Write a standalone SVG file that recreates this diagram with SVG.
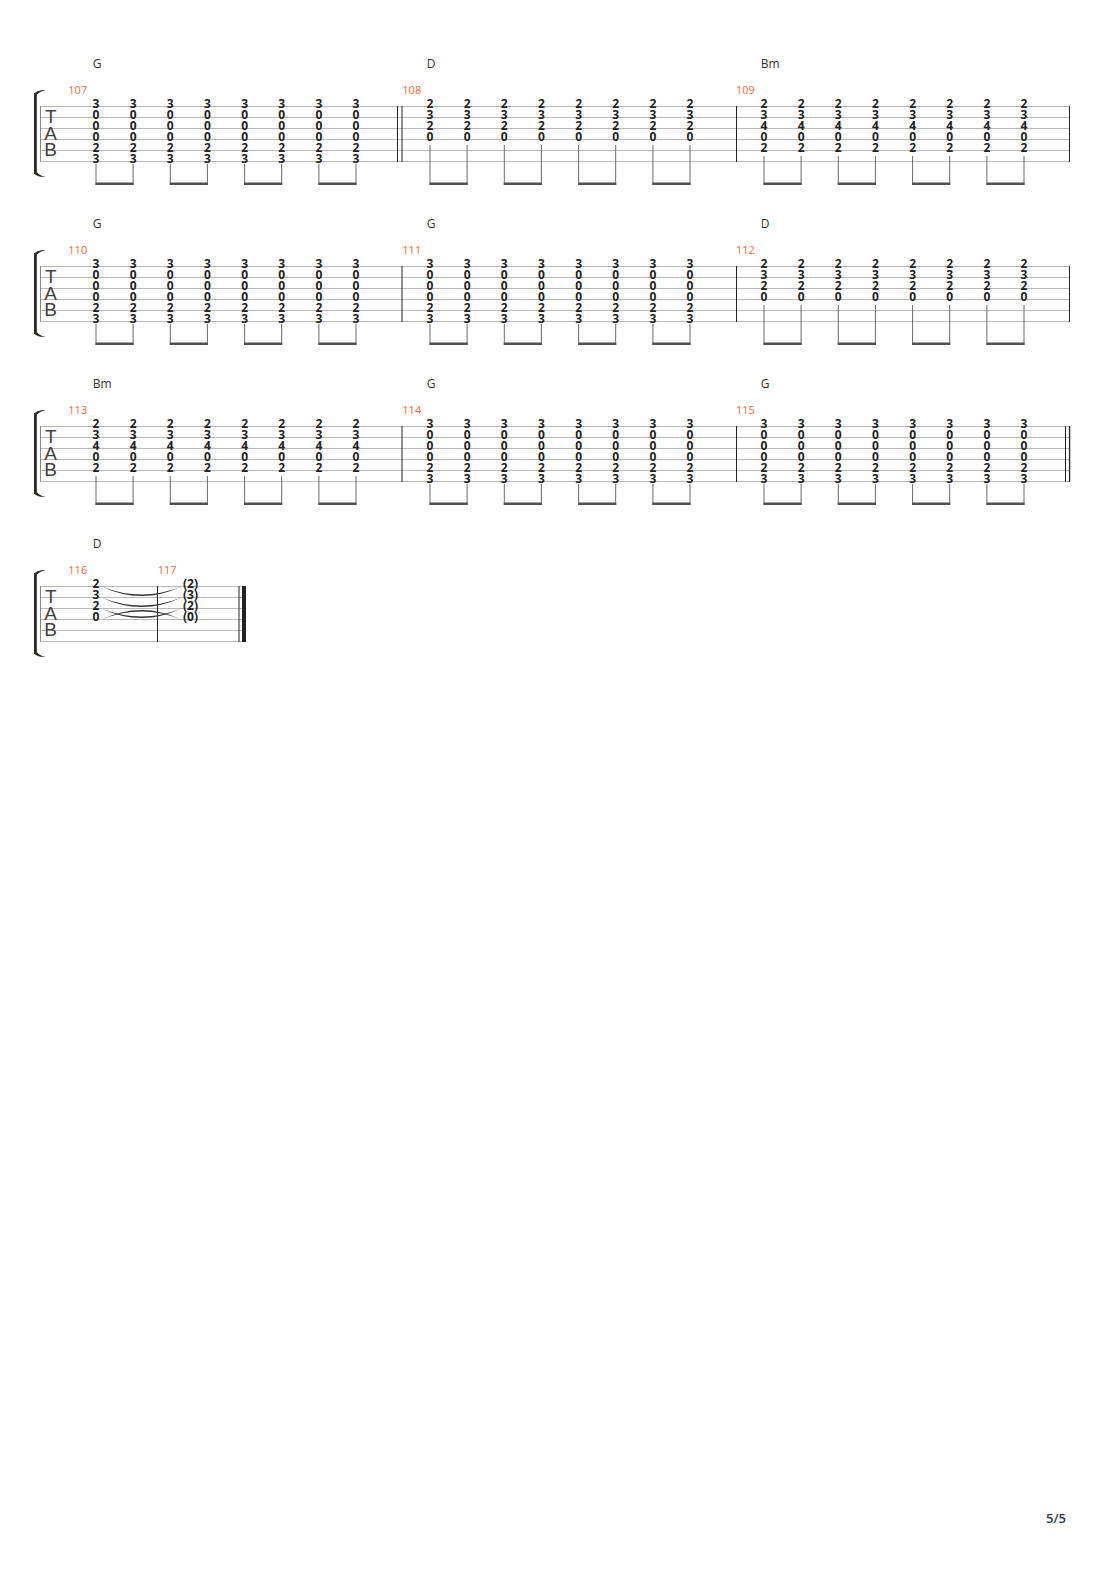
<svg xmlns="http://www.w3.org/2000/svg" width="1110" height="1570" viewBox="0 0 1110 1570">
<style>
.bg{fill:#ffffff}
.staff{stroke:#b8b8b8;stroke-width:1;fill:none}
.bar{stroke:#222;stroke-width:1;fill:none}
.n{font-family:"Open Sans","Liberation Sans",sans-serif;font-weight:700;font-size:12px;fill:#222;text-anchor:middle}
.chord{font-family:"Open Sans","Liberation Sans",sans-serif;font-size:12px;fill:#333}
.num{font-family:"Open Sans","Liberation Sans",sans-serif;font-size:11px;fill:#f26a3c}
.tab{font-family:"Liberation Sans",sans-serif;font-size:19px;fill:#444;text-anchor:middle}
.stem{stroke:#6a6a6a;stroke-width:1;fill:none}
.beam{stroke:#505050;stroke-width:2.5;fill:none}
.brk{fill:#2a2a22}
.tie{fill:#333}
.pg{font-family:"Open Sans","Liberation Sans",sans-serif;font-size:13px;font-weight:600;fill:#2c3a4c;text-anchor:end}
</style>
<defs>
<g id="bracket">
<rect x="34" y="-13" width="2.8" height="81" class="brk"/>
<path d="M34,-12.5 Q38,-16.5 46,-16 Q39,-14.5 36.8,-11 Z" class="brk"/>
<path d="M34,67.5 Q38,71.5 46,71 Q39,69.5 36.8,66 Z" class="brk"/>
<text x="50.7" y="17.3" class="tab">T</text>
<text x="50.7" y="34" class="tab">A</text>
<text x="50.7" y="50" class="tab">B</text>
<path d="M40.5,0 V55" stroke="#888" stroke-width="1"/>
</g>
</defs>
<rect x="0" y="0" width="1110" height="1570" class="bg"/>

<!-- System 1 -->
<g id="system1">
<path class="staff" d="M40,106.5 H1070 M40,117.5 H1070 M40,128.5 H1070 M40,139.5 H1070 M40,150.5 H1070 M40,161.5 H1070"/>
<use href="#bracket" transform="translate(0,106)"/>
<path class="bar" d="M397.5,106 V162 M402,106 V162 M736.5,106 V162 M1069.5,106 V162"/>
<g id="m107">
<text class="chord" x="92.7" y="68.3">G</text>
<text class="num" x="68.3" y="94">107</text>
<text class="n" x="96 133.1 170.3 207.4 244.6 281.7 318.9 356" y="107.5">33333333</text>
<text class="n" x="96 133.1 170.3 207.4 244.6 281.7 318.9 356" y="118.5">00000000</text>
<text class="n" x="96 133.1 170.3 207.4 244.6 281.7 318.9 356" y="129.5">00000000</text>
<text class="n" x="96 133.1 170.3 207.4 244.6 281.7 318.9 356" y="140.5">00000000</text>
<text class="n" x="96 133.1 170.3 207.4 244.6 281.7 318.9 356" y="151.5">22222222</text>
<text class="n" x="96 133.1 170.3 207.4 244.6 281.7 318.9 356" y="162.5">33333333</text>
</g>
<g id="m108">
<text class="chord" x="426.7" y="68.3">D</text>
<text class="num" x="402.3" y="94">108</text>
<text class="n" x="430 467.1 504.3 541.4 578.6 615.7 652.9 690" y="107.5">22222222</text>
<text class="n" x="430 467.1 504.3 541.4 578.6 615.7 652.9 690" y="118.5">33333333</text>
<text class="n" x="430 467.1 504.3 541.4 578.6 615.7 652.9 690" y="129.5">22222222</text>
<text class="n" x="430 467.1 504.3 541.4 578.6 615.7 652.9 690" y="140.5">00000000</text>
</g>
<g id="m109">
<text class="chord" x="760.7" y="68.3">Bm</text>
<text class="num" x="736" y="94">109</text>
<text class="n" x="764 801.1 838.3 875.4 912.6 949.7 986.9 1024" y="107.5">22222222</text>
<text class="n" x="764 801.1 838.3 875.4 912.6 949.7 986.9 1024" y="118.5">33333333</text>
<text class="n" x="764 801.1 838.3 875.4 912.6 949.7 986.9 1024" y="129.5">44444444</text>
<text class="n" x="764 801.1 838.3 875.4 912.6 949.7 986.9 1024" y="140.5">00000000</text>
<text class="n" x="764 801.1 838.3 875.4 912.6 949.7 986.9 1024" y="151.5">22222222</text>
</g>
</g>

<!-- System 2 -->
<g id="system2">
<path class="staff" d="M40,266.5 H1070 M40,277.5 H1070 M40,288.5 H1070 M40,299.5 H1070 M40,310.5 H1070 M40,321.5 H1070"/>
<use href="#bracket" transform="translate(0,266)"/>
<path class="bar" d="M402,266 V322 M736.5,266 V322 M1069.5,266 V322"/>
<g id="m110">
<text class="chord" x="92.7" y="228.3">G</text>
<text class="num" x="68.3" y="254">110</text>
<text class="n" x="96 133.1 170.3 207.4 244.6 281.7 318.9 356" y="267.5">33333333</text>
<text class="n" x="96 133.1 170.3 207.4 244.6 281.7 318.9 356" y="278.5">00000000</text>
<text class="n" x="96 133.1 170.3 207.4 244.6 281.7 318.9 356" y="289.5">00000000</text>
<text class="n" x="96 133.1 170.3 207.4 244.6 281.7 318.9 356" y="300.5">00000000</text>
<text class="n" x="96 133.1 170.3 207.4 244.6 281.7 318.9 356" y="311.5">22222222</text>
<text class="n" x="96 133.1 170.3 207.4 244.6 281.7 318.9 356" y="322.5">33333333</text>
</g>
<g id="m111">
<text class="chord" x="426.7" y="228.3">G</text>
<text class="num" x="402.3" y="254">111</text>
<text class="n" x="430 467.1 504.3 541.4 578.6 615.7 652.9 690" y="267.5">33333333</text>
<text class="n" x="430 467.1 504.3 541.4 578.6 615.7 652.9 690" y="278.5">00000000</text>
<text class="n" x="430 467.1 504.3 541.4 578.6 615.7 652.9 690" y="289.5">00000000</text>
<text class="n" x="430 467.1 504.3 541.4 578.6 615.7 652.9 690" y="300.5">00000000</text>
<text class="n" x="430 467.1 504.3 541.4 578.6 615.7 652.9 690" y="311.5">22222222</text>
<text class="n" x="430 467.1 504.3 541.4 578.6 615.7 652.9 690" y="322.5">33333333</text>
</g>
<g id="m112">
<text class="chord" x="760.7" y="228.3">D</text>
<text class="num" x="736" y="254">112</text>
<text class="n" x="764 801.1 838.3 875.4 912.6 949.7 986.9 1024" y="267.5">22222222</text>
<text class="n" x="764 801.1 838.3 875.4 912.6 949.7 986.9 1024" y="278.5">33333333</text>
<text class="n" x="764 801.1 838.3 875.4 912.6 949.7 986.9 1024" y="289.5">22222222</text>
<text class="n" x="764 801.1 838.3 875.4 912.6 949.7 986.9 1024" y="300.5">00000000</text>
</g>
</g>

<!-- System 3 -->
<g id="system3">
<path class="staff" d="M40,426.5 H1070 M40,437.5 H1070 M40,448.5 H1070 M40,459.5 H1070 M40,470.5 H1070 M40,481.5 H1070"/>
<use href="#bracket" transform="translate(0,426)"/>
<path class="bar" d="M402,426 V482 M736.5,426 V482 M1065.5,426 V482"/>
<path d="M1069.6,426 V482" stroke="#222" stroke-width="1.3"/>
<g id="m113">
<text class="chord" x="92.7" y="388.3">Bm</text>
<text class="num" x="68.3" y="414">113</text>
<text class="n" x="96 133.1 170.3 207.4 244.6 281.7 318.9 356" y="427.5">22222222</text>
<text class="n" x="96 133.1 170.3 207.4 244.6 281.7 318.9 356" y="438.5">33333333</text>
<text class="n" x="96 133.1 170.3 207.4 244.6 281.7 318.9 356" y="449.5">44444444</text>
<text class="n" x="96 133.1 170.3 207.4 244.6 281.7 318.9 356" y="460.5">00000000</text>
<text class="n" x="96 133.1 170.3 207.4 244.6 281.7 318.9 356" y="471.5">22222222</text>
</g>
<g id="m114">
<text class="chord" x="426.7" y="388.3">G</text>
<text class="num" x="402.3" y="414">114</text>
<text class="n" x="430 467.1 504.3 541.4 578.6 615.7 652.9 690" y="427.5">33333333</text>
<text class="n" x="430 467.1 504.3 541.4 578.6 615.7 652.9 690" y="438.5">00000000</text>
<text class="n" x="430 467.1 504.3 541.4 578.6 615.7 652.9 690" y="449.5">00000000</text>
<text class="n" x="430 467.1 504.3 541.4 578.6 615.7 652.9 690" y="460.5">00000000</text>
<text class="n" x="430 467.1 504.3 541.4 578.6 615.7 652.9 690" y="471.5">22222222</text>
<text class="n" x="430 467.1 504.3 541.4 578.6 615.7 652.9 690" y="482.5">33333333</text>
</g>
<g id="m115">
<text class="chord" x="760.7" y="388.3">G</text>
<text class="num" x="736" y="414">115</text>
<text class="n" x="764 801.1 838.3 875.4 912.6 949.7 986.9 1024" y="427.5">33333333</text>
<text class="n" x="764 801.1 838.3 875.4 912.6 949.7 986.9 1024" y="438.5">00000000</text>
<text class="n" x="764 801.1 838.3 875.4 912.6 949.7 986.9 1024" y="449.5">00000000</text>
<text class="n" x="764 801.1 838.3 875.4 912.6 949.7 986.9 1024" y="460.5">00000000</text>
<text class="n" x="764 801.1 838.3 875.4 912.6 949.7 986.9 1024" y="471.5">22222222</text>
<text class="n" x="764 801.1 838.3 875.4 912.6 949.7 986.9 1024" y="482.5">33333333</text>
</g>
</g>

<!-- System 4 -->
<g id="system4">
<path class="staff" d="M40,586.5 H246 M40,597.5 H246 M40,608.5 H246 M40,619.5 H246 M40,630.5 H246 M40,641.5 H246"/>
<use href="#bracket" transform="translate(0,586)"/>
<path class="bar" d="M157.5,586 V642 M239,586 V642"/>
<rect x="242" y="586" width="4" height="56" fill="#222"/>
<g id="m116">
<text class="chord" x="92.7" y="548.3">D</text>
<text class="num" x="68.3" y="574">116</text>
<text class="n" x="96" y="587.5">2</text>
<text class="n" x="96" y="598.5">3</text>
<text class="n" x="96" y="609.5">2</text>
<text class="n" x="96" y="620.5">0</text>
</g>
<g id="m117">
<text class="num" x="157.7" y="574">117</text>
<text class="n" x="190.5" y="587.5">(2)</text>
<text class="n" x="190.5" y="598.5">(3)</text>
<text class="n" x="190.5" y="609.5">(2)</text>
<text class="n" x="190.5" y="620.5">(0)</text>
</g>
</g>

<!-- Connectors: stems, beams, ties -->
<g id="connectors">
<path class="stem" d="M96,164V185M133.1,164V185M170.3,164V185M207.4,164V185M244.6,164V185M281.7,164V185M318.9,164V185M356,164V185
M430,145V185M467.1,145V185M504.3,145V185M541.4,145V185M578.6,145V185M615.7,145V185M652.9,145V185M690,145V185
M764,156V185M801.1,156V185M838.3,156V185M875.4,156V185M912.6,156V185M949.7,156V185M986.9,156V185M1024,156V185
M96,324V345M133.1,324V345M170.3,324V345M207.4,324V345M244.6,324V345M281.7,324V345M318.9,324V345M356,324V345
M430,324V345M467.1,324V345M504.3,324V345M541.4,324V345M578.6,324V345M615.7,324V345M652.9,324V345M690,324V345
M764,305V345M801.1,305V345M838.3,305V345M875.4,305V345M912.6,305V345M949.7,305V345M986.9,305V345M1024,305V345
M96,476V505M133.1,476V505M170.3,476V505M207.4,476V505M244.6,476V505M281.7,476V505M318.9,476V505M356,476V505
M430,484V505M467.1,484V505M504.3,484V505M541.4,484V505M578.6,484V505M615.7,484V505M652.9,484V505M690,484V505
M764,484V505M801.1,484V505M838.3,484V505M875.4,484V505M912.6,484V505M949.7,484V505M986.9,484V505M1024,484V505"/>
<path class="beam" d="M95.5,183.75H133.6M169.8,183.75H207.9M244.1,183.75H282.2M318.4,183.75H356.5
M429.5,183.75H467.6M503.8,183.75H541.9M578.1,183.75H616.2M652.4,183.75H690.5
M763.5,183.75H801.6M837.8,183.75H875.9M912.1,183.75H950.2M986.4,183.75H1024.5
M95.5,343.75H133.6M169.8,343.75H207.9M244.1,343.75H282.2M318.4,343.75H356.5
M429.5,343.75H467.6M503.8,343.75H541.9M578.1,343.75H616.2M652.4,343.75H690.5
M763.5,343.75H801.6M837.8,343.75H875.9M912.1,343.75H950.2M986.4,343.75H1024.5
M95.5,503.75H133.6M169.8,503.75H207.9M244.1,503.75H282.2M318.4,503.75H356.5
M429.5,503.75H467.6M503.8,503.75H541.9M578.1,503.75H616.2M652.4,503.75H690.5
M763.5,503.75H801.6M837.8,503.75H875.9M912.1,503.75H950.2M986.4,503.75H1024.5"/>
<path class="tie" d="M101.5,586.5 Q141.5,605.5 181.5,586.5 Q141.5,602.5 101.5,586.5 Z"/>
<path class="tie" d="M101.5,597.5 Q141.5,616.5 181.5,597.5 Q141.5,613.5 101.5,597.5 Z"/>
<path class="tie" d="M101.5,608.5 Q141.5,627.5 181.5,608.5 Q141.5,624.5 101.5,608.5 Z"/>
<path class="tie" d="M101.5,619.5 Q141.5,600.5 181.5,619.5 Q141.5,603.5 101.5,619.5 Z"/>
</g>

<text class="pg" x="1066" y="1523">5/5</text>
</svg>
